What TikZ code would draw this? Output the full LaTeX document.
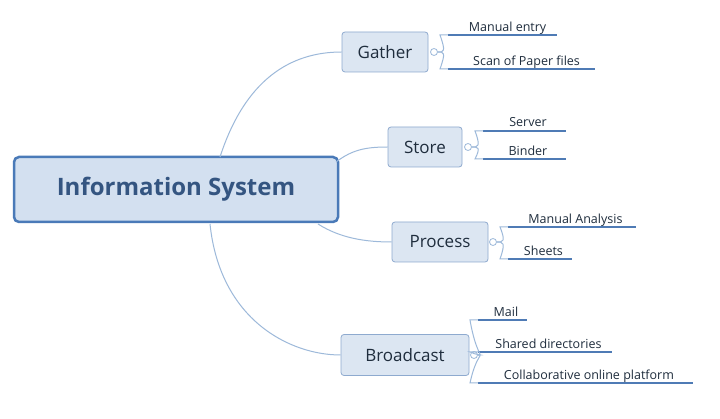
\documentclass[tikz,border=0pt]{standalone}
\usepackage{fontspec}
\setmainfont{Open Sans}
\definecolor{edgeblue}{HTML}{9DB9DA}
\definecolor{boxfill}{HTML}{DCE6F2}
\definecolor{boxline}{HTML}{8EAACF}
\definecolor{mainline}{HTML}{4A7AB8}
\definecolor{txt}{HTML}{1F2D3D}
\definecolor{mainfill}{HTML}{D3E0F0}
\definecolor{leafline}{HTML}{4F7BB5}
\tikzset{
  topic/.style={draw=boxline, fill=boxfill, rounded corners=3pt, line width=0.8pt,
    font=\fontsize{17}{20}\selectfont, text=txt, inner sep=0pt},
  central/.style={draw=mainline, fill=mainfill, rounded corners=5pt, line width=2.5pt,
    font=\fontsize{24}{28}\selectfont\bfseries, text=mainline!70!black, inner sep=0pt},
  leaf/.style={anchor=south west, font=\fontsize{12.5}{15}\selectfont, text=txt,
    inner sep=0pt, minimum height=14pt, text depth=3pt, align=left},
  underline/.style={draw=leafline, line width=1.8pt},
  branch/.style={draw=edgeblue, line width=1pt},
  knob/.style={circle, draw=edgeblue, fill=white, line width=0.8pt, minimum size=7pt, inner sep=0pt}
}
\begin{document}
\begin{tikzpicture}[x=1pt,y=-1pt]
    \useasboundingbox[fill=white] (0,0) rectangle (720,419);
    % main topic
    \node[central, minimum width=324pt, minimum height=65pt] (info) at (176,189.5) {Information System};
    % topics
    \node[topic, minimum width=86pt, minimum height=40pt] (gather) at (385,52) {Gather};
    \node[topic, minimum width=74pt, minimum height=40pt] (store) at (425,147) {Store};
    \node[topic, minimum width=96pt, minimum height=40pt] (process) at (440,242) {Process};
    \node[topic, minimum width=128pt, minimum height=41pt] (broadcast) at (405,355) {Broadcast};
    % links to topics
    \coordinate (gs) at (220,157);
    \coordinate (ss) at (336,162);
    \coordinate (ps) at (318,224);
    \coordinate (bs) at (210,224);
    \draw[branch] (gs) .. controls (245,80) and (290,52) .. (gather.west);
    \draw[branch] (ss) .. controls (352,150) and (365,147) .. (store.west);
    \draw[branch] (ps) .. controls (340,238) and (365,242) .. (process.west);
    \draw[branch] (bs) .. controls (220,320) and (290,355) .. (broadcast.west);
    % knobs
    \node[knob] (gk) at (434,52) {};
    \node[knob] (sk) at (468,147) {};
    \node[knob] (pk) at (493,242) {};
    \node[knob] (bk) at (474,355) {};
    % leaves
    \node[leaf, minimum width=109pt] (g1) at (448,35) {\ \ \ Manual entry};
    \node[leaf, minimum width=147pt] (g2) at (448,69) {\ \ \ Scan of Paper files};
    \node[leaf, minimum width=83pt] (s1) at (483,131) {\ \ Server};
    \node[leaf, minimum width=83pt] (s2) at (483,159) {\ \ Binder};
    \node[leaf, minimum width=128pt] (p1) at (508,227) {\ \ Manual Analysis};
    \node[leaf, minimum width=64pt] (p2) at (508,259) {\ \ Sheets};
    \node[leaf, minimum width=49pt] (b1) at (478,320) {\ \ Mail};
    \node[leaf, minimum width=134pt] (b2) at (478,352) {\ \ Shared directories};
    \node[leaf, minimum width=215pt] (b3) at (478,383) {\ \ Collaborative online platform};
    \foreach \l in {g1,g2,s1,s2,p1,p2,b1,b2,b3}
        \draw[underline] (\l.south west) -- (\l.south east);
    % brackets
    \foreach \k/\l in {gk/g1,gk/g2,sk/s1,sk/s2,pk/p1,pk/p2,bk/b1,bk/b2,bk/b3}
        \draw[branch] (\k.east) .. controls ([xshift=6pt]\k.east) and ([xshift=-2pt]\l.south west |- \k.east) .. ([xshift=-8pt,yshift=0pt]\l.south west) -- (\l.south west);
\end{tikzpicture}
\end{document}
